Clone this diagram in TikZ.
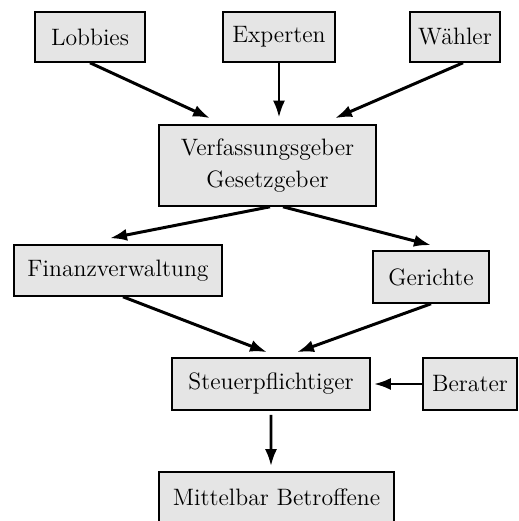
\documentclass[tikz,border=0pt]{standalone}
\usetikzlibrary{arrows.meta}

\tikzset{
  kasten/.style={draw, line width=0.9pt, fill=gray!20, inner sep=0pt,
    align=center, font=\fontsize{13.5}{18.5}\selectfont},
  pfeil/.style={-{Latex[length=3.4mm,width=2.4mm]}, line width=1.7pt}
}

\begin{document}
\begin{tikzpicture}
                \useasboundingbox (0,0) rectangle (10.36,10.42);

                \node[kasten, minimum width=2.2cm, minimum height=1cm] (lobbies) at (1.8,9.68) {Lobbies};
                \node[kasten, minimum width=2.24cm, minimum height=1cm] (experten) at (5.58,9.68) {Experten};
                \node[kasten, minimum width=1.8cm, minimum height=1cm] (waehler) at (9.1,9.68) {Wähler};
                \node[kasten, minimum width=4.34cm, minimum height=1.62cm] (verf) at (5.35,7.11) {Verfassungsgeber\\Gesetzgeber};
                \node[kasten, minimum width=4.16cm, minimum height=1.02cm] (finanz) at (2.36,5.01) {Finanzverwaltung};
                \node[kasten, minimum width=2.32cm, minimum height=1.04cm] (gerichte) at (8.62,4.88) {Gerichte};
                \node[kasten, minimum width=3.96cm, minimum height=1.04cm] (steuer) at (5.42,2.74) {Steuerpflichtiger};
                \node[kasten, minimum width=1.88cm, minimum height=1.04cm] (berater) at (9.4,2.74) {Berater};
                \node[kasten, minimum width=4.7cm, minimum height=1.02cm] (mittelbar) at (5.53,0.47) {Mittelbar Betroffene};

                \draw[pfeil] (lobbies.south) -- ([xshift=-1.15cm,yshift=0.12cm]verf.north);
                \draw[pfeil] (experten.south) -- ([xshift=0.23cm,yshift=0.13cm]verf.north);
                \draw[pfeil] ([xshift=0.16cm]waehler.south) -- ([xshift=1.35cm,yshift=0.12cm]verf.north);
                \draw[pfeil] ([xshift=0.05cm]verf.south) -- ([xshift=-0.16cm,yshift=0.12cm]finanz.north);
                \draw[pfeil] ([xshift=0.31cm]verf.south) -- ([yshift=0.1cm]gerichte.north);
                \draw[pfeil] ([xshift=0.1cm]finanz.south) -- ([xshift=-0.08cm,yshift=0.1cm]steuer.north);
                \draw[pfeil] (gerichte.south) -- ([xshift=0.52cm,yshift=0.1cm]steuer.north);
                \draw[pfeil] (berater.west) -- ([xshift=0.06cm]steuer.east);
                \draw[pfeil] ([yshift=-0.08cm]steuer.south) -- ([xshift=-0.11cm,yshift=0.1cm]mittelbar.north);
            \end{tikzpicture}
\end{document}
